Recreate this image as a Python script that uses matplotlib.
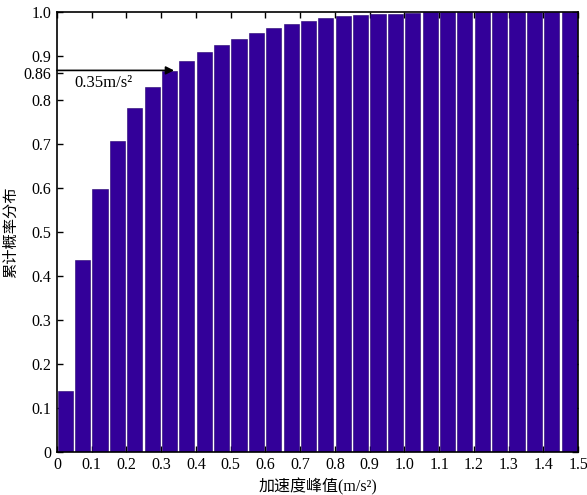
import numpy as np
import matplotlib
matplotlib.use('Agg')
import matplotlib.pyplot as plt

plt.rcParams['font.family'] = ['Liberation Serif', 'Noto Sans CJK SC']

# bin left edges (m/s^2) and cumulative probability
bin_left = np.arange(0, 1.5, 0.05)
cdf = [0.139, 0.436, 0.598, 0.707, 0.781, 0.830, 0.866, 0.889, 0.909, 0.925,
       0.939, 0.952, 0.963, 0.973, 0.980, 0.985, 0.990, 0.993, 0.995, 0.996,
       0.998, 0.999, 1.0, 1.0, 1.0, 1.0, 1.0, 1.0, 1.0, 1.0]

y_ticks = [0, 0.1, 0.2, 0.3, 0.4, 0.5, 0.6, 0.7, 0.8, 0.86, 0.9, 1.0]
y_ticklabels = ['0', '0.1', '0.2', '0.3', '0.4', '0.5', '0.6', '0.7', '0.8', '0.86', '0.9', '1.0']
x_ticks = np.round(np.arange(0, 1.51, 0.1), 1)
x_ticklabels = ['0'] + ['%.1f' % v for v in x_ticks[1:]]

fig = plt.figure(figsize=(5.87, 4.95), dpi=100)
ax = fig.add_axes([0.097, 0.087, 0.888, 0.889])

ax.bar(bin_left + 0.002, cdf, width=0.0435, align='edge',
       color='#330099', edgecolor='#24006f', linewidth=0.4, zorder=2)

# annotation arrow at 0.86
ax.annotate('', xy=(0.337, 0.867), xytext=(0.0, 0.867),
            arrowprops=dict(arrowstyle='-|>', color='black', lw=1.2,
                            mutation_scale=12, shrinkA=0, shrinkB=0), zorder=5)
ax.text(0.05, 0.838, '0.35m/s²', fontsize=12, ha='left', va='center')

ax.set_xlim(0, 1.5)
ax.set_ylim(0, 1.0)
ax.set_xticks(x_ticks)
ax.set_xticklabels(x_ticklabels)
ax.set_yticks(y_ticks)
ax.set_yticklabels(y_ticklabels)
ax.tick_params(direction='in', length=4, width=1, top=True, right=True,
               labelsize=11.5, pad=4)
for s in ax.spines.values():
    s.set_linewidth(1.2)
    s.set_zorder(6)

ax.set_xlabel('加速度峰值(m/s²)', fontsize=11.5, labelpad=3)
ax.set_ylabel('累计概率分布', fontsize=11, labelpad=4)

fig.savefig('out.png', dpi=100)
